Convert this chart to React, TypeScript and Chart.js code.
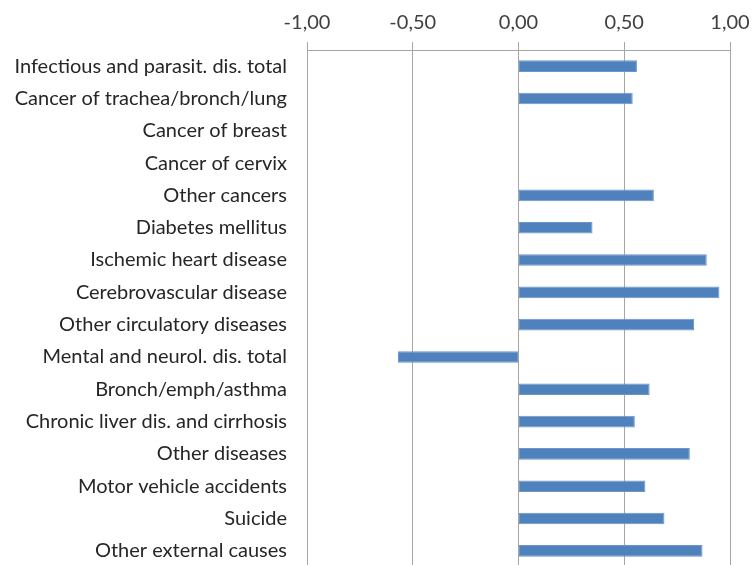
import React, { useEffect, useRef } from "react";
import { Chart, registerables } from "chart.js";

Chart.register(...registerables);

const categories: string[] = [
  "Infectious and parasit. dis. total",
  "Cancer of trachea/bronch/lung",
  "Cancer of breast",
  "Cancer of cervix",
  "Other cancers",
  "Diabetes mellitus",
  "Ischemic heart disease",
  "Cerebrovascular disease",
  "Other circulatory diseases",
  "Mental and neurol. dis. total",
  "Bronch/emph/asthma",
  "Chronic liver dis. and cirrhosis",
  "Other diseases",
  "Motor vehicle accidents",
  "Suicide",
  "Other external causes",
];

const values: (number | null)[] = [
  0.56, 0.54, null, null, 0.64, 0.35, 0.89, 0.95, 0.83, -0.57, 0.62, 0.55, 0.81, 0.6, 0.69, 0.87,
];

const xTicks: number[] = [-1, -0.5, 0, 0.5, 1];

const FONT = "Lato";

export default function App() {
  const ref = useRef<HTMLCanvasElement | null>(null);

  useEffect(() => {
    document.body.style.margin = "0";
    document.body.style.overflow = "hidden";
    const canvas = ref.current;
    if (!canvas) return;
    const chart = new Chart(canvas, {
      type: "bar",
      data: {
        labels: categories,
        datasets: [
          {
            data: values,
            backgroundColor: "#4f81bd",
            borderColor: "#6a96cc",
            borderWidth: 1,
            borderSkipped: false,
            barPercentage: 0.36,
            categoryPercentage: 1,
          },
        ],
      },
      options: {
        indexAxis: "y",
        animation: false,
        responsive: true,
        maintainAspectRatio: false,
        layout: { padding: { left: 0, right: 22, top: 0, bottom: 3 } },
        plugins: {
          legend: { display: false },
          tooltip: { enabled: false },
        },
        scales: {
          x: {
            position: "top",
            min: -1,
            max: 1,
            afterBuildTicks: (scale: any) => {
              scale.ticks = xTicks.map((v) => ({ value: v }));
            },
            afterFit: (scale: any) => {
              scale.height = 50;
              scale.paddingLeft = 0;
              scale.paddingRight = 0;
            },
            ticks: {
              font: { family: FONT, size: 20 },
              color: "#404040",
              padding: 7,
              maxRotation: 0,
              callback: (v: any) => Number(v).toFixed(2).replace(".", ","),
            },
            grid: {
              color: "#a6a6a6",
              lineWidth: 1,
              drawTicks: true,
              tickLength: 8,
            },
            border: { display: true, color: "#a6a6a6" },
          },
          y: {
            afterFit: (scale: any) => {
              scale.width = 307;
              scale.paddingTop = 0;
              scale.paddingBottom = 0;
            },
            ticks: {
              font: { family: FONT, size: 20 },
              color: "#262626",
              padding: 20,
              autoSkip: false,
            },
            grid: { display: false, drawTicks: false },
            border: { display: false },
          },
        },
      },
    });
    return () => chart.destroy();
  }, []);

  return (
    <div style={{ position: "relative", width: 752, height: 570 }}>
      <canvas ref={ref} />
    </div>
  );
}
